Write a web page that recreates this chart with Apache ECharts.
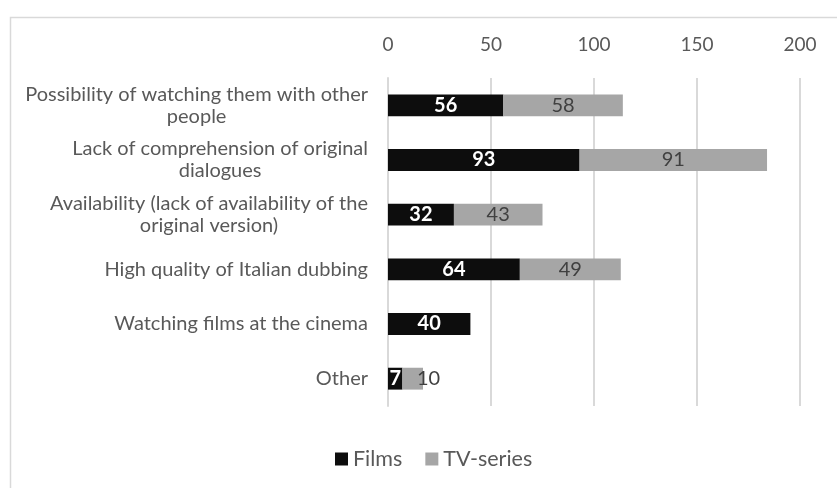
<!DOCTYPE html>
<html>
<head>
<meta charset="utf-8">
<script src="https://cdn.jsdelivr.net/npm/echarts@6/dist/echarts.min.js"></script>
<style>
  html, body { margin: 0; padding: 0; background: #ffffff; }
  #chart { width: 837px; height: 488px; }
</style>
</head>
<body>
<div id="chart"></div>
<script>
// Reasons for choosing dubbed versions, counted for films and TV-series
const categories = [
  ['Possibility of watching them with other', 'people'],
  ['Lack of comprehension of original', 'dialogues'],
  ['Availability (lack of availability of the', 'original version)'],
  ['High quality of Italian dubbing'],
  ['Watching films at the cinema'],
  ['Other']
];
const films = [56, 93, 32, 64, 40, 7];
const tvSeries = [58, 91, 43, 49, null, 10];
const xTicks = [0, 50, 100, 150, 200];

const FONT = 'Lato, "Open Sans", sans-serif';
const labelText = '#595959';

const chart = echarts.init(document.getElementById('chart'), null, { renderer: 'canvas' });

chart.setOption({
  animation: false,
  backgroundColor: '#ffffff',
  textStyle: { fontFamily: FONT },
  graphic: [{
    type: 'rect',
    left: 8, top: 15,
    shape: { width: 860, height: 500 },
    style: { fill: 'none', stroke: '#d9d9d9', lineWidth: 1.5 },
    silent: true
  }],
  grid: { left: 388, right: 37, top: 78, bottom: 82, containLabel: false },
  legend: {
    bottom: 13,
    left: 330,
    itemWidth: 13,
    itemHeight: 13,
    itemGap: 23,
    icon: 'rect',
    textStyle: { color: labelText, fontSize: 21.5, fontFamily: FONT },
    data: ['Films', 'TV-series']
  },
  xAxis: {
    type: 'value',
    position: 'top',
    min: xTicks[0],
    max: xTicks[xTicks.length - 1],
    interval: xTicks[1] - xTicks[0],
    axisLine: { show: false },
    axisTick: { show: false },
    axisLabel: { color: labelText, fontSize: 19, fontFamily: FONT, margin: 24 },
    splitLine: { show: true, lineStyle: { color: '#d9d9d9', width: 2 } }
  },
  yAxis: {
    type: 'category',
    inverse: true,
    data: categories.map(c => c.join('\n')),
    axisLine: { show: true, lineStyle: { color: '#d9d9d9', width: 2 } },
    axisTick: { show: false },
    axisLabel: {
      align: 'right',
      margin: 20,
      color: labelText,
      fontSize: 20,
      fontFamily: FONT,
      lineHeight: 22,
      formatter: v => v.split('\n').map(s => '{c|' + s + '}').join('\n'),
      rich: { c: { align: 'center', color: labelText, fontSize: 20, fontFamily: FONT, lineHeight: 22 } }
    }
  },
  series: [
    {
      name: 'Films',
      type: 'bar',
      stack: 'total',
      barWidth: '40%',
      itemStyle: { color: '#0d0d0d' },
      label: {
        show: true,
        position: 'inside',
        color: '#ffffff',
        fontWeight: 'bold',
        fontSize: 20,
        fontFamily: FONT
      },
      data: films
    },
    {
      name: 'TV-series',
      type: 'bar',
      stack: 'total',
      barWidth: '40%',
      itemStyle: { color: '#a6a6a6' },
      label: {
        show: true,
        position: 'inside',
        color: '#404040',
        fontSize: 20,
        fontFamily: FONT
      },
      data: tvSeries.map((v, i) => i === tvSeries.length - 1
        ? { value: v, label: { position: 'right', distance: -6 } }
        : v)
    }
  ]
});
</script>
</body>
</html>
